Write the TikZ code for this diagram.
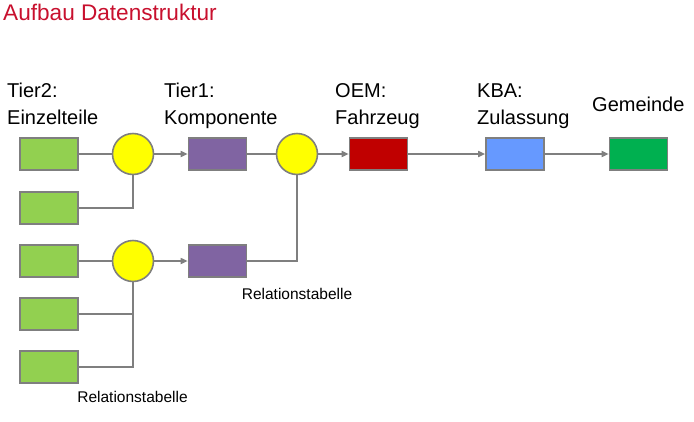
\documentclass[tikz,border=0pt]{standalone}
\usepackage{fontspec}
\setmainfont{Liberation Sans}
\usepackage{tikz}
\usetikzlibrary{arrows.meta,positioning,calc}
\definecolor{titel}{HTML}{C8102E}
\definecolor{rahmen}{HTML}{7F7F7F}
\definecolor{teil}{HTML}{92D050}
\definecolor{komp}{HTML}{8064A2}
\definecolor{knoten}{HTML}{FFFF00}
\definecolor{oemrot}{HTML}{C00000}
\definecolor{kbablau}{HTML}{6699FF}
\definecolor{gemgruen}{HTML}{00B050}
\tikzset{
  kasten/.style={rectangle, draw=rahmen, line width=1.6pt, fill=#1,
                 minimum width=58pt, minimum height=32pt, inner sep=0pt},
  kreis/.style={circle, draw=rahmen, line width=1.6pt, fill=knoten,
                minimum size=41pt, inner sep=0pt},
  verb/.style={line width=1.6pt, draw=rahmen},
  pfeil/.style={-{Triangle[length=7pt,width=6pt]}, line width=1.6pt, draw=rahmen},
  stufe/.style={font=\fontsize{20}{27}\selectfont, align=left, anchor=base west,
                inner sep=0pt},
  reltab/.style={font=\fontsize{15.5}{18}\selectfont, inner sep=0pt},
}
\begin{document}
\begin{tikzpicture}[x=1pt,y=-1pt]
    \useasboundingbox (0,0) rectangle (694,421);
    \node[font=\fontsize{22.6}{26}\selectfont, color=titel, anchor=base west, inner sep=0pt] (titel) at (3,20) {Aufbau Datenstruktur};
    % Stufen
    \node[stufe] (l2) at (7,124) {Tier2:\\Einzelteile};
    \node[stufe] (l1) at (164,124) {Tier1:\\Komponente};
    \node[stufe] (lo) at (335,124) {OEM:\\Fahrzeug};
    \node[stufe] (lk) at (477,124) {KBA:\\Zulassung};
    \node[stufe] (lg) at (592,111) {Gemeinde};
    % Kaesten
    \node[kasten=teil] (g1) at (49,154) {};
    \node[kasten=teil] (g2) at (49,208) {};
    \node[kasten=teil] (g3) at (49,261) {};
    \node[kasten=teil] (g4) at (49,314) {};
    \node[kasten=teil] (g5) at (49,367) {};
    \node[kreis] (c1) at (133,154) {};
    \node[kreis] (c2) at (297,154) {};
    \node[kreis] (c3) at (133,261) {};
    \node[kasten=komp] (k1) at (217.5,154) {};
    \node[kasten=komp] (k2) at (217.5,261) {};
    \node[kasten=oemrot] (oem) at (378.5,154) {};
    \node[kasten=kbablau] (kba) at (515,154) {};
    \node[kasten=gemgruen] (gem) at (638.5,154) {};
    \node[reltab] (r1) at (297,294) {Relationstabelle};
    \node[reltab] (r2) at (132.5,397) {Relationstabelle};
    % Verbindungen
    \draw[verb] (g1) -- (c1);
    \draw[verb] (g2) -| (c1);
    \draw[pfeil] (c1) -- (k1);
    \draw[verb] (k1) -- (c2);
    \draw[verb] (k2) -| (c2);
    \draw[pfeil] (c2) -- (oem);
    \draw[verb] (g3) -- (c3);
    \draw[verb] (g4) -| (c3);
    \draw[verb] (g5) -| (c3);
    \draw[pfeil] (c3) -- (k2);
    \draw[pfeil] (oem) -- (kba);
    \draw[pfeil] (kba) -- (gem);
  \end{tikzpicture}
\end{document}
